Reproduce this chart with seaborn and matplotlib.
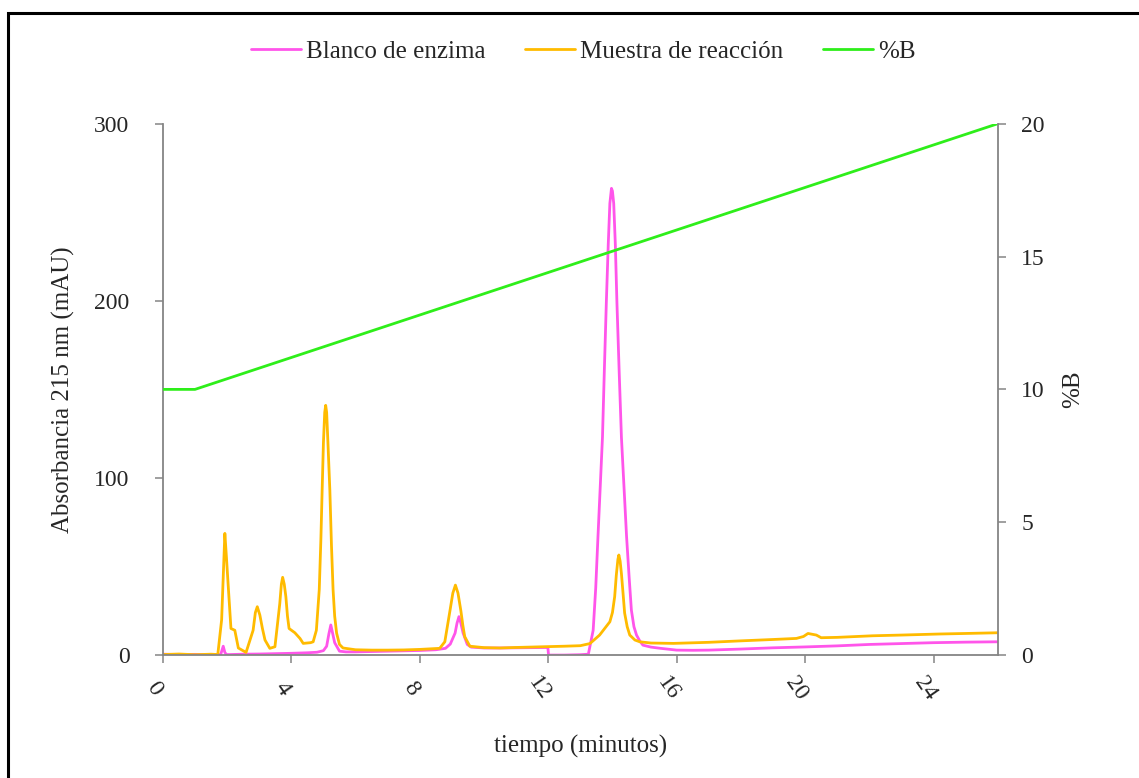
import matplotlib
matplotlib.use("Agg")
import matplotlib.pyplot as plt
import pandas as pd
import seaborn as sns
from matplotlib.patches import Rectangle

# Blanco de enzima (mAU)
t_blanco = [0, 0.5, 1.0, 1.5, 1.8, 1.88, 1.93, 1.98, 2.1, 2.5,
            3.0, 3.5, 4.0, 4.5, 4.8, 5.0, 5.1, 5.17, 5.23, 5.29,
            5.35, 5.5, 5.7, 6.0, 6.5, 7.0, 7.5, 8.0, 8.5, 8.8,
            8.95, 9.1, 9.16, 9.22, 9.28, 9.35, 9.48, 9.6, 10.0, 10.5,
            11.0, 11.5, 11.99, 12.01, 12.5, 13.0, 13.25, 13.4, 13.48, 13.55,
            13.62, 13.69, 13.75, 13.81, 13.87, 13.92, 13.97, 14.0, 14.04, 14.09,
            14.14, 14.21, 14.28, 14.36, 14.44, 14.52, 14.59, 14.67, 14.75, 14.85,
            14.95, 15.2, 15.5, 16.0, 16.5, 17.0, 18.0, 19.0, 20.0, 21.0,
            22.0, 23.0, 24.0, 25.0, 26.0]
v_blanco = [0.5, 0.3, 0.4, 0.2, 0.3, 5.0, 1.5, 0.3, 0.3, 0.5,
            0.6, 0.8, 1.0, 1.3, 1.6, 2.5, 5.0, 12.0, 17.0, 12.0,
            7.0, 2.2, 1.8, 1.8, 2.0, 2.2, 2.4, 2.6, 3.0, 3.8,
            6.2, 12.4, 18.0, 21.7, 18.0, 12.4, 6.0, 4.5, 4.0, 4.0,
            4.1, 4.2, 4.3, 0.0, 0.0, 0.2, 0.5, 14.0, 38.0, 67.0,
            95.0, 123.0, 162.0, 199.0, 232.0, 255.0, 263.5, 262.0, 255.0, 232.0,
            199.0, 160.0, 123.0, 95.0, 67.0, 44.0, 25.4, 16.0, 11.3, 8.0,
            5.6, 4.5, 3.8, 2.8, 2.7, 2.8, 3.4, 4.1, 4.6, 5.2,
            6.0, 6.5, 7.0, 7.3, 7.5]

# Muestra de reaccion (mAU)
t_muestra = [0, 0.5, 1.0, 1.5, 1.71, 1.83, 1.93, 1.98, 2.03, 2.12,
             2.24, 2.35, 2.59, 2.81, 2.88, 2.94, 3.02, 3.1, 3.18, 3.33,
             3.49, 3.64, 3.69, 3.73, 3.78, 3.83, 3.88, 3.93, 4.11, 4.27,
             4.37, 4.6, 4.68, 4.78, 4.87, 4.92, 4.96, 5.0, 5.04, 5.07,
             5.1, 5.14, 5.2, 5.25, 5.3, 5.35, 5.41, 5.5, 5.61, 6.0,
             6.5, 7.0, 7.5, 8.0, 8.62, 8.78, 8.94, 9.03, 9.11, 9.19,
             9.28, 9.34, 9.40, 9.56, 10.0, 10.5, 11.0, 11.84, 12.5, 13.0,
             13.3, 13.6, 13.92, 14.0, 14.07, 14.12, 14.17, 14.2, 14.24, 14.28,
             14.33, 14.38, 14.46, 14.54, 14.7, 14.85, 15.2, 15.9, 17.0, 17.96,
             19.0, 19.73, 19.95, 20.09, 20.35, 20.5, 21.0, 22.11, 23.0, 24.19,
             25.0, 26.0]
v_muestra = [0.3, 0.6, 0.2, 0.5, 0.3, 20.0, 68.7, 55.0, 40.5, 15.0,
             14.0, 4.0, 1.5, 14.0, 24.0, 27.3, 22.6, 15.0, 8.5, 3.8,
             4.7, 29.0, 40.0, 43.9, 40.0, 33.0, 22.0, 15.0, 12.6, 9.4,
             6.6, 7.0, 7.5, 14.0, 37.0, 65.0, 93.0, 120.0, 137.0, 141.0,
             137.0, 120.0, 93.0, 62.0, 37.0, 22.0, 12.4, 6.0, 4.0, 3.0,
             2.8, 2.8, 2.9, 3.2, 3.8, 7.5, 25.0, 35.0, 39.5, 35.0,
             25.0, 17.0, 10.4, 5.0, 4.2, 4.0, 4.3, 4.7, 5.0, 5.3,
             6.5, 11.3, 18.8, 24.0, 33.0, 45.0, 54.0, 56.5, 53.0, 46.0,
             35.0, 23.7, 16.0, 11.3, 8.5, 7.5, 6.8, 6.6, 7.2, 8.0,
             8.8, 9.4, 10.5, 12.2, 11.3, 9.8, 10.0, 10.9, 11.3, 11.9,
             12.2, 12.6]

# gradiente %B
t_b = [0, 1.0, 26.0]
pct_b = [10, 10, 20]

x_ticks = [0, 4, 8, 12, 16, 20, 24]
y_ticks = [0, 100, 200, 300]
y2_ticks = [0, 5, 10, 15, 20]

blanco = pd.DataFrame({"tiempo": t_blanco, "abs": v_blanco})
muestra = pd.DataFrame({"tiempo": t_muestra, "abs": v_muestra})
grad = pd.DataFrame({"tiempo": t_b, "pb": pct_b})

sns.set_style("white")
plt.rcParams["font.family"] = ["Liberation Serif", "DejaVu Serif"]

MAG = "#FF55EA"
ORA = "#FFBB00"
GRN = "#2EEE1A"
GRAY = "#858585"

fig = plt.figure(figsize=(11.39, 7.78), dpi=100)
ax = fig.add_axes([0.143, 0.158, 0.733, 0.683])
ax2 = ax.twinx()

sns.lineplot(data=blanco, x="tiempo", y="abs", ax=ax, color=MAG, lw=2.0,
             estimator=None, sort=False, label="Blanco de enzima", legend=False)
sns.lineplot(data=muestra, x="tiempo", y="abs", ax=ax, color=ORA, lw=2.0,
             estimator=None, sort=False, label="Muestra de reacción", legend=False)
sns.lineplot(data=grad, x="tiempo", y="pb", ax=ax2, color=GRN, lw=2.0,
             estimator=None, sort=False, label="%B", legend=False)

ax.set_xlim(0, 26)
ax.set_ylim(0, 300)
ax2.set_ylim(0, 20)
ax.set_xticks(x_ticks)
ax.set_yticks(y_ticks)
ax2.set_yticks(y2_ticks)

for a in (ax, ax2):
    a.spines["top"].set_visible(False)
    for s in ("left", "right", "bottom"):
        a.spines[s].set_color(GRAY)
        a.spines[s].set_linewidth(1.3)
ax.spines["right"].set_visible(False)
ax2.spines["left"].set_visible(False)
ax2.spines["bottom"].set_visible(False)

ax.tick_params(axis="y", which="both", left=True, length=6, width=1.1,
               color=GRAY, pad=18, labelsize=17)
ax.tick_params(axis="x", which="both", bottom=True, length=6, width=1.1,
               color=GRAY, pad=14, labelsize=17)
ax2.tick_params(axis="y", right=True, length=6, width=1.1, color=GRAY,
                pad=11, labelsize=17)
for lab in ax.get_xticklabels():
    lab.set_rotation(-55)
    lab.set_ha("center")
    lab.set_va("top")
    lab.set_rotation_mode("anchor")

ax.set_xlabel("tiempo (minutos)", fontsize=18, labelpad=22)
ax.set_ylabel("Absorbancia 215 nm (mAU)", fontsize=18, labelpad=14)
ax2.set_ylabel("%B", fontsize=18, labelpad=12)

h1, l1 = ax.get_legend_handles_labels()
h2, l2 = ax2.get_legend_handles_labels()
fig.legend(h1 + h2, l1 + l2, loc="center", bbox_to_anchor=(0.512, 0.934),
           ncol=3, frameon=False, fontsize=18, handlelength=2.0,
           handletextpad=0.2, columnspacing=1.6)

fig.patches.append(Rectangle((0.007, -0.05), 1.1, 0.033 + 1.0, transform=fig.transFigure,
                             fill=False, edgecolor="black", lw=2.2))

fig.savefig("out.png", dpi=100)
